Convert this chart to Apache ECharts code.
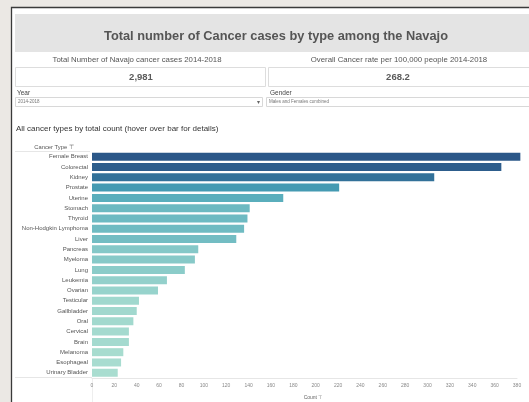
<!DOCTYPE html>
<html><head><meta charset="utf-8">
<script src="https://cdn.jsdelivr.net/npm/echarts@6/dist/echarts.min.js"></script>
<style>html,body{margin:0;padding:0;background:#ebe8e4;}#c{width:529px;height:402px;}</style>
</head><body><div id="c"></div>
<script>
const categories = ["Female Breast","Colorectal","Kidney","Prostate","Uterine","Stomach","Thyroid","Non-Hodgkin Lymphoma","Liver","Pancreas","Myeloma","Lung","Leukemia","Ovarian","Testicular","Gallbladder","Oral","Cervical","Brain","Melanoma","Esophageal","Urinary Bladder"];
const counts = [383,366,306,221,171,141,139,136,129,95,92,83,67,59,42,40,37,33,33,28,26,23];
const xTicks = {min:0, max:380, step:20};
const kpiLabels = ["Total Number of Navajo cancer cases 2014-2018","Overall Cancer rate per 100,000 people 2014-2018"];
const kpiValues = ["2,981","268.2"];

const palette = ['#a9ddd0','#7cc3c6','#48a3b7','#33759c','#2b5788'];
const vmin = Math.min(...counts), vmax = Math.max(...counts);
const font = 'Liberation Sans, Arial, sans-serif';

const chart = echarts.init(document.getElementById('c'), null, {renderer:'canvas'});
chart.setOption({
  backgroundColor: '#ebe8e4',
  animation: false,
  graphic: [
    {type:'rect', shape:{x:11.5,y:7.5,width:520,height:400}, style:{fill:'#ffffff', stroke:'#3a3a3a', lineWidth:1.3}, z:-10},
    {type:'rect', shape:{x:15,y:14,width:516,height:38}, style:{fill:'#e4e4e4'}, z:-9},
    {type:'text', x:276, y:36, style:{text:'Total number of Cancer cases by type among the Navajo', font:'bold 12.8px '+font, fill:'#555', align:'center', verticalAlign:'middle'}},
    {type:'text', x:137, y:60, style:{text:kpiLabels[0], font:'7.8px '+font, fill:'#555', align:'center', verticalAlign:'middle'}},
    {type:'text', x:399, y:60, style:{text:kpiLabels[1], font:'7.8px '+font, fill:'#555', align:'center', verticalAlign:'middle'}},
    {type:'rect', shape:{x:15.5,y:67.5,width:250,height:19}, style:{fill:'none', stroke:'#dddddd', lineWidth:1}},
    {type:'rect', shape:{x:268.5,y:67.5,width:262,height:19}, style:{fill:'none', stroke:'#dddddd', lineWidth:1}},
    {type:'text', x:141, y:77, style:{text:kpiValues[0], font:'bold 9.5px '+font, fill:'#5a5a5a', align:'center', verticalAlign:'middle'}},
    {type:'text', x:398, y:77, style:{text:kpiValues[1], font:'bold 9.5px '+font, fill:'#5a5a5a', align:'center', verticalAlign:'middle'}},
    {type:'text', x:17, y:93, style:{text:'Year', font:'6.5px '+font, fill:'#444', verticalAlign:'middle'}},
    {type:'text', x:270, y:93, style:{text:'Gender', font:'6.5px '+font, fill:'#444', verticalAlign:'middle'}},
    {type:'rect', shape:{x:15.5,y:97.5,width:247,height:9}, style:{fill:'#fff', stroke:'#d8d8d8', lineWidth:1}},
    {type:'rect', shape:{x:266.5,y:97.5,width:264,height:9}, style:{fill:'#fff', stroke:'#d8d8d8', lineWidth:1}},
    {type:'text', x:18, y:102, style:{text:'2014-2018', font:'4.5px '+font, fill:'#777', verticalAlign:'middle'}},
    {type:'text', x:269, y:102, style:{text:'Males and Females combined', font:'4.5px '+font, fill:'#777', verticalAlign:'middle'}},
    {type:'text', x:258, y:102, style:{text:'▾', font:'6px '+font, fill:'#666', align:'center', verticalAlign:'middle'}},
    {type:'text', x:16, y:129, style:{text:'All cancer types by total count (hover over bar for details)', font:'8px '+font, fill:'#333', verticalAlign:'middle'}},
    {type:'line', shape:{x1:15,y1:151.5,x2:90,y2:151.5}, style:{stroke:'#e6e6e6', lineWidth:1}},
    {type:'text', x:54, y:147, style:{text:'Cancer Type ⊤', font:'5.8px '+font, fill:'#555', align:'center', verticalAlign:'middle'}},
    {type:'line', shape:{x1:15,y1:377.5,x2:92,y2:377.5}, style:{stroke:'#e6e6e6', lineWidth:1}},
    {type:'line', shape:{x1:92.5,y1:378,x2:92.5,y2:402}, style:{stroke:'#eeeeee', lineWidth:1}},
    {type:'text', x:313, y:398, style:{text:'Count ⊤', font:'5px '+font, fill:'#666', align:'center', verticalAlign:'middle'}}
  ],
  grid: {left:92, right:12, top:151.6, height:226.3, containLabel:false},
  xAxis: {
    type:'value', min:xTicks.min, max:xTicks.max, interval:xTicks.step,
    axisLine:{show:true, lineStyle:{color:'#e6e6e6'}},
    axisTick:{show:false},
    splitLine:{show:false},
    axisLabel:{fontSize:5, color:'#888', margin:5, fontFamily:font}
  },
  yAxis: {
    type:'category', data:categories, inverse:true,
    axisLine:{show:false}, axisTick:{show:false},
    axisLabel:{fontSize:6, color:'#555', margin:4, fontFamily:font}
  },
  series: [{
    type:'bar', data:counts, barWidth:8, clip:false,
    itemStyle:{color: p => echarts.color.lerp((p.value - vmin)/(vmax - vmin), palette)}
  }]
});
</script></body></html>
